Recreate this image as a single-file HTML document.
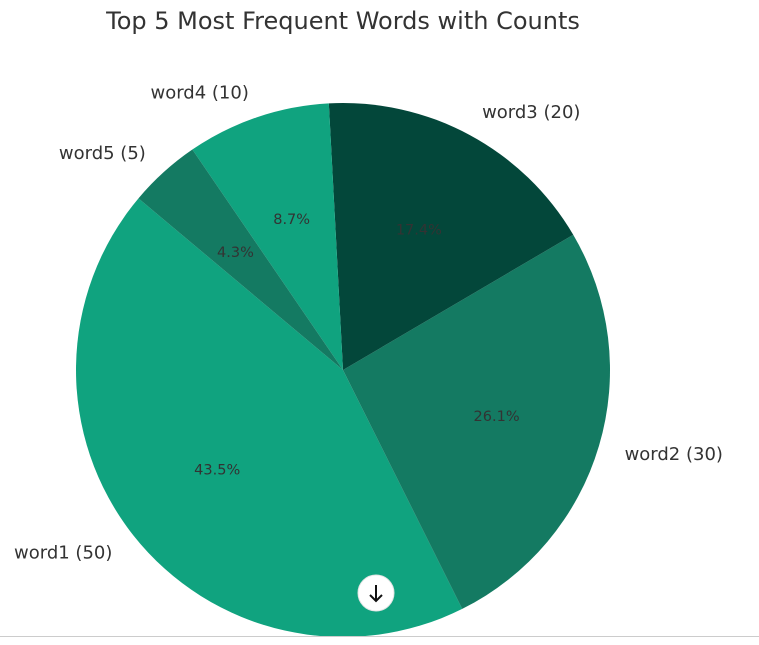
<!DOCTYPE html>
<html><head><meta charset="utf-8"><style>
body{margin:0;background:#fff;width:759px;height:640px;overflow:hidden;font-family:"Liberation Sans","DejaVu Sans",sans-serif}
</style></head><body>
<svg id="chart" width="759" height="640" style="font-family:'DejaVu Sans','Liberation Sans',sans-serif">
<text x="343" y="29" text-anchor="middle" font-size="24" fill="#333">Top 5 Most Frequent Words with Counts</text>
<g id="slices"></g>
<line x1="0" y1="636.5" x2="759" y2="636.5" stroke="#ccc"/>
<g>
<circle cx="376" cy="593" r="18" fill="#fff" stroke="#e5e5e5"/>
<path d="M376 585 V601 M370 595 L376 601 L382 595" stroke="#111" stroke-width="2" fill="none"/>
</g>
</svg>
<script>
const labels=["word1","word2","word3","word4","word5"];
const counts=[50,30,20,10,5];
const colors=["#10a37f","#147a62","#03473a","#10a37f","#147a62"];
const cx=343,cy=370,R=267,start=140;
const g=document.getElementById('slices');
const NS="http://www.w3.org/2000/svg";
const total=counts.reduce((a,b)=>a+b,0);
let a=start;
function pt(deg,r){const t=deg*Math.PI/180;return [cx+r*Math.cos(t),cy-r*Math.sin(t)];}
counts.forEach((v,i)=>{
  const sweep=v/total*360,a2=a+sweep;
  const [x1,y1]=pt(a,R),[x2,y2]=pt(a2,R);
  const p=document.createElementNS(NS,'path');
  p.setAttribute('d',`M${cx},${cy} L${x1},${y1} A${R},${R} 0 ${sweep>180?1:0} 0 ${x2},${y2} Z`);
  p.setAttribute('fill',colors[i]);
  
  
  g.appendChild(p);
  const mid=a+sweep/2;
  const [lx,ly]=pt(mid,R*1.1);
  const t=document.createElementNS(NS,'text');
  t.setAttribute('x',lx);t.setAttribute('y',ly+6.5);
  t.setAttribute('font-size','18');t.setAttribute('fill','#333');
  t.setAttribute('text-anchor',Math.cos(mid*Math.PI/180)<0?'end':'start');
  t.textContent=labels[i]+' ('+v+')';
  
  
  g.appendChild(t);
  const [px,py]=pt(mid,R*0.6);
  const q=document.createElementNS(NS,'text');
  q.setAttribute('x',px);q.setAttribute('y',py+5.5);
  q.setAttribute('font-size','14.5');q.setAttribute('fill','#333');
  q.setAttribute('text-anchor','middle');
  q.textContent=(v/total*100).toFixed(1)+'%';
  
  
  g.appendChild(q);
  a=a2;
});
</script>
</body></html>
